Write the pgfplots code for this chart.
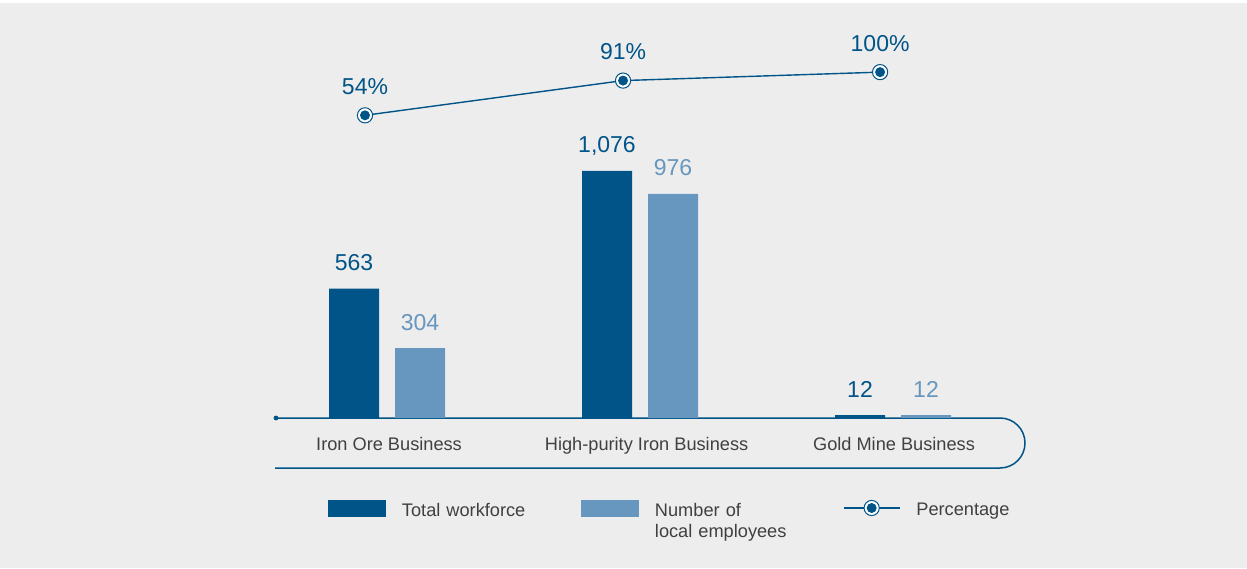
\documentclass[border=0pt]{standalone}
\usepackage{pgfplots}
\pgfplotsset{compat=1.18}
\usepackage{fontspec}
\setmainfont{Liberation Sans}
\definecolor{dark}{RGB}{0,84,136}
\definecolor{light}{RGB}{103,150,190}
\definecolor{txt}{RGB}{64,64,64}
\definecolor{bg}{RGB}{237,237,237}
\pgfkeys{/pgf/number format/assume math mode=true}
\pgfdeclareplotmark{ringdot}{%
  \pgfpathcircle{\pgfpointorigin}{3.8pt}%
  \pgfsetfillcolor{white}%
  \pgfusepathqfillstroke
  \pgfpathcircle{\pgfpointorigin}{2.5pt}%
  \pgfsetfillcolor{dark}%
  \pgfusepathqfill
}
\begin{document}
\begin{tikzpicture}
\useasboundingbox (0,0) rectangle (623.5pt,284pt);
\fill[white] (0,0) rectangle (623.5pt,284pt);
\fill[bg] (0,0) rectangle (623.5pt,282.5pt);
\draw[dark, line width=0.75pt] (137.5pt,75pt) -- (500pt,75pt) arc[start angle=90, end angle=-90, radius=12.5pt] -- (137.5pt,50pt);
\fill[dark] (138pt,75pt) circle (1.2pt);
\begin{axis}[at={(117.6pt,75pt)}, anchor=south west,
  x=126.5pt, y=0.1148pt,
  xmin=-0.6, xmax=2.6, ymin=0, ymax=1300,
  ybar=8pt, bar width=25pt,
  hide axis, clip=false, enlargelimits=false,
  legend style={at={(0.1146,-0.2747)}, anchor=north west, draw=none, fill=none,
    inner sep=0pt, outer sep=0pt, legend columns=3,
    nodes={inner sep=0pt, align=left, text=txt, font=\fontsize{9.1}{10.5}\selectfont},
    /tikz/every odd column/.append style={column sep=8pt}},
]
\addplot[fill=dark, draw=none,
  nodes near coords,
  every node near coord/.append style={text=dark, font=\fontsize{11.5}{13}\selectfont, anchor=base, inner sep=0pt, yshift=9pt},
  legend image code/.code={\fill[dark] (0pt,-3pt) rectangle (29pt,5.5pt);}]
  coordinates {(0,563) (1,1076) (2,12)};
\addlegendentry[text width=89.5pt]{Total workforce}
\addplot[fill=light, draw=none,
  nodes near coords,
  every node near coord/.append style={text=light, font=\fontsize{11.5}{13}\selectfont, anchor=base, inner sep=0pt, yshift=9pt},
  legend image code/.code={\fill[light] (0pt,-3pt) rectangle (29pt,5.5pt);}]
  coordinates {(0,304) (1,976) (2,12)};
\addlegendentry[text width=94pt]{Number of\\local employees}
\addlegendimage{dark, legend image code/.code={\draw[sharp plot, dark, line width=0.7pt, mark=ringdot, mark options={line width=0.5pt}, mark repeat=2, mark phase=2] plot coordinates {(0pt,1.5pt) (14pt,1.5pt) (28pt,1.5pt)};}}
\addlegendentry{Percentage}
\node[anchor=base, text=txt, font=\fontsize{9.1}{11}\selectfont, yshift=-16pt] at (axis cs:0.008,0) {Iron Ore Business};
\node[anchor=base, text=txt, font=\fontsize{9.1}{11}\selectfont, yshift=-16pt] at (axis cs:1.026,0) {High-purity Iron Business};
\node[anchor=base, text=txt, font=\fontsize{9.1}{11}\selectfont, yshift=-16pt] at (axis cs:2.004,0) {Gold Mine Business};
\end{axis}
\begin{axis}[at={(117.6pt,219.77pt)}, anchor=south west,
  x=126.5pt, y=0.4693pt,
  xmin=-0.6, xmax=2.6, ymin=40, ymax=110,
  hide axis, clip=false, enlargelimits=false]
\addplot[dark, line width=0.7pt, mark=ringdot, mark options={line width=0.5pt},
  nodes near coords={\pgfmathprintnumber{\pgfplotspointmeta}\%},
  every node near coord/.append style={text=dark, font=\fontsize{11.5}{13}\selectfont, anchor=base, inner sep=0pt, yshift=10.5pt}]
  coordinates {(-0.087,54) (0.933,91) (1.949,100)};
\end{axis}
\end{tikzpicture}
\end{document}
